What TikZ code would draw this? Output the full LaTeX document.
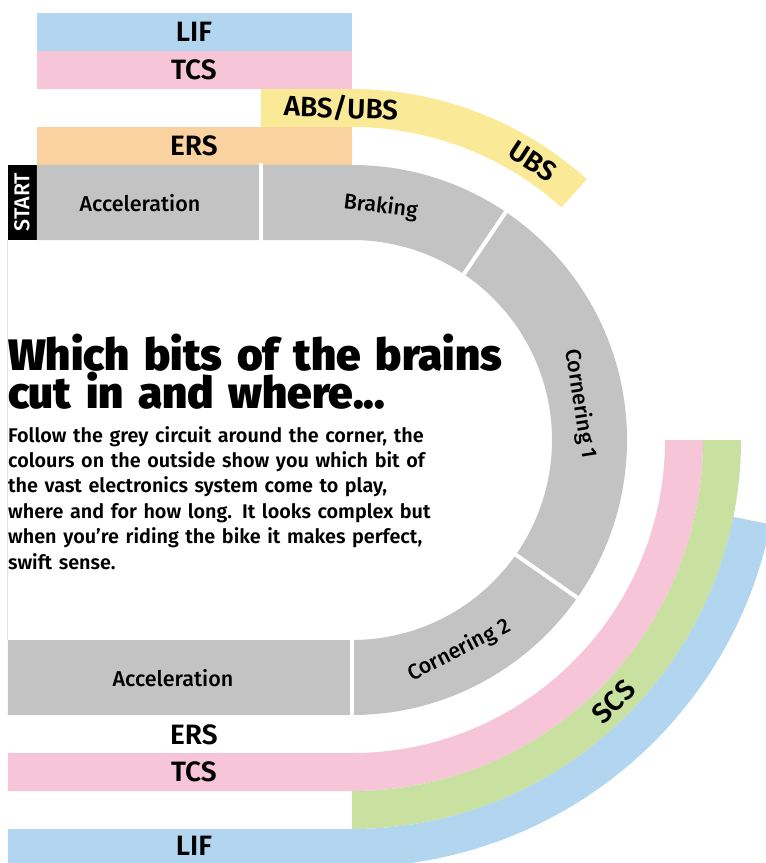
\documentclass[tikz,border=0pt]{standalone}
\usepackage{fontspec}
\setmainfont{Fira Sans}
\newfontfamily\headfont{Fira Sans Black}
\newfontfamily\bandfont{Fira Sans SemiBold}
\newfontfamily\trackfont{Fira Sans Medium}
\definecolor{trackgrey}{RGB}{195,195,195}
\definecolor{lifblue}{RGB}{179,214,240}
\definecolor{tcspink}{RGB}{246,198,216}
\definecolor{absyellow}{RGB}{250,234,152}
\definecolor{ersorange}{RGB}{249,210,160}
\definecolor{scsgreen}{RGB}{200,224,160}

\begin{document}
\begin{tikzpicture}[x=1pt,y=1pt,
    band/.style={font=\bandfont\fontsize{28}{28}\selectfont,inner sep=0pt},
    track/.style={font=\trackfont\fontsize{21.5}{21.5}\selectfont,inner sep=0pt},
    sep/.style={draw=white,line width=4pt}]
  \useasboundingbox (-352,-423) rectangle (414,440);
  \clip (-352,-423) rectangle (414,440);
  % origin at the centre of the corner; track radii 200-275, each band 38 wide
  \fill[lifblue] (-315,389) rectangle (0,427);
  \fill[tcspink] (-315,351) rectangle (0,389);
  \fill[ersorange] (-315,275) rectangle (0,313);
  \fill[absyellow] (-91,313) -- (0,313) arc[start angle=90,end angle=48,radius=313]
    -- (48:351) arc[start angle=48,end angle=90,radius=351] -- (-91,351) -- cycle;
  \fill[tcspink] (0:313) arc[start angle=0,end angle=-90,radius=313] -- (-344,-313)
    -- (-344,-351) -- (0,-351) arc[start angle=-90,end angle=0,radius=351] -- cycle;
  \fill[scsgreen] (0:351) arc[start angle=0,end angle=-90,radius=351]
    -- (0,-389) arc[start angle=-90,end angle=0,radius=389] -- cycle;
  \fill[lifblue] (-11.4:389) arc[start angle=-11.4,end angle=-90,radius=389] -- (-344,-389)
    -- (-344,-427) -- (0,-427) arc[start angle=-90,end angle=-11.4,radius=427] -- cycle;
  % the circuit
  \draw[black!10,line width=0.8pt] (-345,200) -- (-345,-200);
  \fill[black] (-344,200) rectangle (-315,275);
  \fill[trackgrey] (-315,275) -- (0,275) arc[start angle=90,end angle=-90,radius=275]
    -- (-344,-275) -- (-344,-200) -- (0,-200) arc[start angle=-90,end angle=90,radius=200]
    -- (-315,200) -- cycle;
  \draw[sep] (-91,198) -- (-91,277);
  \draw[sep] (56:198) -- (56:277);
  \draw[sep] (-35:198) -- (-35:277);
  \draw[sep] (0,-198) -- (0,-277);
  \begin{scope}
    \node[band] (lif-top) at (-158,408) {LIF};
    \node[band] (tcs-top) at (-158,370) {TCS};
    \node[band, rotate=-2] (abs-ubs) at (-11,332) {ABS/UBS};
    \node[band] (ers-top) at (-158,294) {ERS};
    \node[band, rotate=-33] (ubs) at (57:332) {UBS};
    \node[track, text=white, rotate=90] (start) at (-330,238) {START};
    \node[track] (accel-top) at (-212,237) {Acceleration};
    \node[track, rotate=-7] (braking) at (83:235) {Braking};
    \node[track, rotate=-81] (corner-1) at (9:231) {Cornering 1};
    \node[track, rotate=27] (corner-2) at (-63:236) {Cornering 2};
    \node[track] (accel-bot) at (-179,-238) {Acceleration};
    \node[band] (ers-bot) at (-158,-295) {ERS};
    \node[band] (tcs-bot) at (-158,-332) {TCS};
    \node[band, rotate=45] (scs) at (-45:370) {SCS};
    \node[band] (lif-bot) at (-158,-406) {LIF};
  \end{scope}
  \node[anchor=base west, inner sep=0pt, text width=520pt, align=left,
    font=\headfont\fontsize{44}{37}\selectfont] (title) at (-344,70)
    {Which bits of the brains\\cut in and where...};
  \node[anchor=base west, inner sep=0pt, text width=480pt, align=left,
    font=\bandfont\fontsize{19.8}{25.4}\selectfont] (blurb) at (-344,-2)
    {Follow the grey circuit around the corner, the\\
     colours on the outside show you which bit of\\
     the vast electronics system come to play,\\
     where and for how long. It looks complex but\\
     when you’re riding the bike it makes perfect,\\
     swift sense.};
\end{tikzpicture}
\end{document}
